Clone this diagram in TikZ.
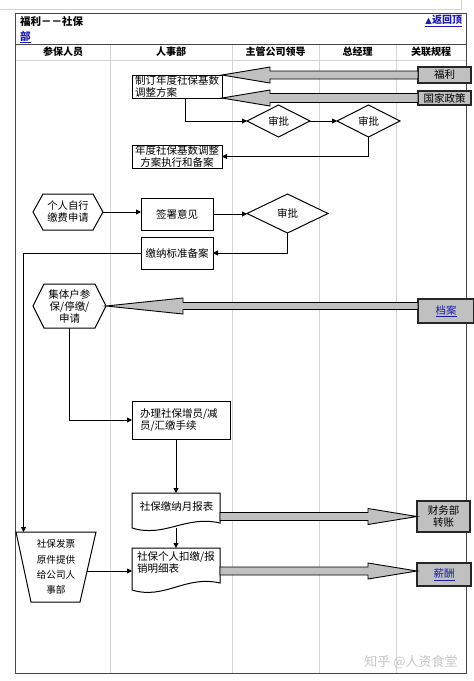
\documentclass[tikz,border=0pt]{standalone}
\usepackage{fontspec}
\setmainfont{Noto Sans CJK SC}
\newfontfamily\symfont{DejaVu Sans}
\usetikzlibrary{arrows.meta,shapes.geometric,calc}
\definecolor{linkblue}{RGB}{30,30,170}
\definecolor{boxgray}{RGB}{192,192,192}
\definecolor{lanegray}{RGB}{212,212,212}
\definecolor{framegray}{RGB}{70,70,70}
\newcommand{\fatarrow}[5]{%
  \path[fat] let \p1=(#1), \p2=(#2) in
    ({\x1},{\y2+#4pt}) -- ({\x2+(#3pt)},{\y2+#4pt}) -- ({\x2+(#3pt)},{\y2+#5pt})
    -- (\p2) -- ({\x2+(#3pt)},{\y2-#5pt}) -- ({\x2+(#3pt)},{\y2-#4pt})
    -- ({\x1},{\y2-#4pt}) -- cycle;}
\begin{document}
\begin{tikzpicture}[x=1pt,y=-1pt,
  every node/.style={inner sep=0pt, outer sep=0pt},
  txt/.style={font=\fontsize{10.5}{12}\selectfont},
  box/.style={txt, draw=black, line width=1pt, fill=white, rectangle, align=center},
  gbox/.style={txt, draw=black!85, line width=1.3pt, fill=boxgray, rectangle, align=center},
  dia/.style={txt, diamond, draw=black, line width=1pt, fill=white},
  ghost/.style={txt, rectangle, align=center},
  hdr/.style={font=\bfseries\fontsize{10}{12}\selectfont},
  conn/.style={draw=black, line width=0.9pt, -{Triangle[length=5pt,width=5pt]}},
  fat/.style={draw=black, line width=0.9pt, fill=boxgray, line join=miter},
  outl/.style={draw=black, line width=1pt, fill=white, line join=miter},
  lane/.style={draw=lanegray, line width=0.8pt},
]
\useasboundingbox (0,0) rectangle (474,681);
\fill[white] (0,0) rectangle (474,681);
% page artefact line
\draw[lane] (0,9.5) -- (461,9.5) -- (461,0);
% lanes
\foreach \xx in {110,232,319,396} \draw[lane] (\xx,44) -- (\xx,673);
\draw[lane] (15.5,60) -- (466.5,60);
\draw[framegray, line width=0.9pt] (15.5,44) -- (466.5,44);
\draw[framegray, line width=0.9pt] (15.5,13) rectangle (466.5,673);
% title
\node[anchor=west, font=\bfseries\fontsize{10.5}{12}\selectfont] (title) at (20,21) {福利－－社保};
\node[anchor=west, font=\bfseries\fontsize{10.5}{12}\selectfont, text=linkblue] (title2) at (20,37) {\underline{部}};
\node[anchor=east, font=\bfseries\fontsize{10}{12}\selectfont, text=linkblue] (back) at (462,21) {\underline{{\symfont\fontsize{8.5}{10}\selectfont ▲}返回顶}};
% column headers
\node[hdr] (h1) at (63,52) {参保人员};
\node[hdr] (h2) at (171,52) {人事部};
\node[hdr] (h3) at (275.5,52) {主管公司领导};
\node[hdr] (h4) at (357.5,52) {总经理};
\node[hdr] (h5) at (431,52) {关联规程};
% nodes
\node[box, minimum width=90pt, minimum height=23pt, align=left] (b1) at (177,86.5) {制订年度社保基数\\调整方案};
\node[box, minimum width=90pt, minimum height=23pt] (b2) at (177,156.5) {年度社保基数调整\\方案执行和备案};
\node[dia, minimum width=63pt, minimum height=32pt] (dia1) at (278.5,121) {审批};
\node[dia, minimum width=63pt, minimum height=32pt] (dia2) at (368.5,121) {审批};
\node[gbox, minimum width=53pt, minimum height=16pt] (g1) at (444.5,75) {福利};
\node[gbox, minimum width=53pt, minimum height=14pt] (g2) at (444.5,98) {国家政策};

\node[ghost, minimum width=70pt, minimum height=36pt] (hex1) at (68,212) {};
\draw[outl] (hex1.west) -- ([xshift=10pt]hex1.north west) -- ([xshift=-10pt]hex1.north east) -- (hex1.east) -- ([xshift=-10pt]hex1.south east) -- ([xshift=10pt]hex1.south west) -- cycle;
\node[ghost, font=\fontsize{10.3}{12}\selectfont] (hex1t) at (hex1) {个人自行\\缴费申请};
\node[box, minimum width=72pt, minimum height=32pt] (b3) at (177,214) {签署意见};
\node[dia, minimum width=81pt, minimum height=39pt] (dia3) at (287.5,213.5) {审批};
\node[box, minimum width=72pt, minimum height=32pt] (b4) at (177,253) {缴纳标准备案};

\node[ghost, minimum width=73pt, minimum height=44pt] (hex2) at (69.5,306) {};
\draw[outl] (hex2.west) -- ([xshift=11pt]hex2.north west) -- ([xshift=-11pt]hex2.north east) -- (hex2.east) -- ([xshift=-11pt]hex2.south east) -- ([xshift=11pt]hex2.south west) -- cycle;
\node[ghost] (hex2t) at (hex2) {集体户参\\保/停缴/\\申请};
\node[gbox, minimum width=56pt, minimum height=24pt, text=linkblue] (g3) at (446,311) {\underline{档案}};

\node[box, minimum width=98pt, minimum height=38pt, text width=82pt, align=left] (b5) at (181,420) {办理社保增员/减\\员/汇缴手续};

\node[ghost, minimum width=88pt, minimum height=35pt] (doc1) at (176,510.5) {};
\draw[outl] ([yshift=5pt]doc1.south east) .. controls +(-35,-8) and +(33,10) .. (doc1.south west) -- (doc1.north west) -- (doc1.north east) -- cycle;
\node[ghost] (doc1t) at (176.5,506) {社保缴纳月报表};
\node[gbox, minimum width=53pt, minimum height=31pt] (g4) at (443.5,516.5) {财务部\\转账};

\node[ghost, minimum width=80pt, minimum height=70pt] (trap) at (56,567) {};
\draw[outl] (trap.north west) -- (trap.north east) -- ([xshift=-16pt]trap.south east) -- ([xshift=15pt]trap.south west) -- cycle;
\node[ghost, font=\fontsize{9.6}{15.3}\selectfont] (trapt) at (trap) {社保发票\\原件提供\\给公司人\\事部};

\node[ghost, minimum width=88pt, minimum height=42pt] (doc2) at (176,569) {};
\draw[outl] ([yshift=7pt]doc2.south east) .. controls +(-35,-8) and +(33,10) .. (doc2.south west) -- (doc2.north west) -- (doc2.north east) -- cycle;
\node[ghost, align=left] (doc2t) at (176,562.5) {社保个人扣缴/报\\销明细表};
\node[gbox, minimum width=54pt, minimum height=23pt, text=linkblue] (g5) at (444,574.5) {\underline{薪酬}};

\coordinate (trapin) at ([xshift=7.5pt]trap.north west);
\coordinate (trapout) at ($(trap.north east)!0.557!([xshift=-16pt]trap.south east)$);

% thin connectors
\draw[conn] ([xshift=8pt]b1.south) |- (dia1.west);
\draw[conn] (dia1.east) -- (dia2.west);
\draw[conn] (dia2.south) |- (b2.east);
\draw[conn] (hex1.east) -- (hex1.east -| b3.west);
\draw[conn] (b3.east) -- (b3.east -| dia3.west);
\draw[conn] (dia3.south) |- (b4.east);
\draw[conn] (b4.west) -| (trapin);
\draw[conn] (hex2.south) |- (b5.west);
\draw[conn] (doc1.north |- b5.south) -- (doc1.north);
\draw[conn] (doc1.south) -- (doc2.north);
\draw[conn] (trapout) -- (trapout -| doc2.west);

% fat arrows
\fatarrow{g1.west}{b1.east |- g1.west}{48}{4}{8}
\fatarrow{g2.west}{b1.east |- g2.west}{48}{4.5}{8}
\fatarrow{g3.west}{hex2.east}{77}{3.5}{8}
\fatarrow{doc1.east}{g4.west}{-49}{4}{8}
\fatarrow{doc2.east}{[yshift=3.5pt]g5.west}{-49}{4}{8}

% watermark
\node[text=black!22, font=\fontsize{13}{14}\selectfont] (wm) at (411,662) {知乎 @人资食堂};
\end{tikzpicture}
\end{document}
